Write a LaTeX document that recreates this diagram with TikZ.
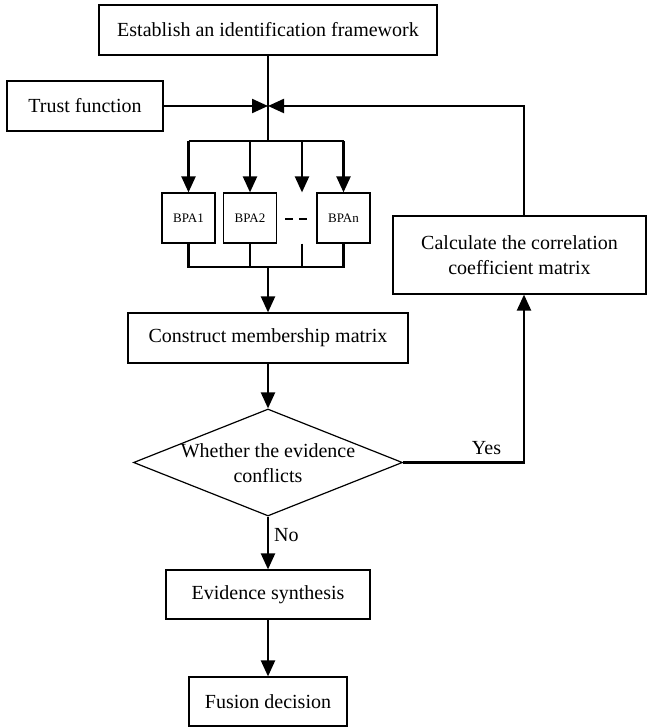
\documentclass[tikz,border=0pt]{standalone}
\usepackage{fontspec}
\setmainfont{Liberation Serif}
\usepackage{tikz}
\usetikzlibrary{positioning}
\usetikzlibrary{shapes.geometric, arrows.meta}
\tikzstyle{process} = [rectangle, draw=black, line width=0.6pt, inner sep=0pt, minimum height=25pt, align=center, font=\fontsize{10}{12.5}\selectfont]
\tikzstyle{bpa} = [rectangle, draw=black, line width=0.6pt, inner sep=0pt, minimum width=26.5pt, minimum height=25pt, font=\fontsize{6.5}{8}\selectfont]
\tikzstyle{decision} = [diamond, draw=black, line width=0.6pt, inner sep=0pt, minimum width=134.5pt, minimum height=53.5pt]
\tikzstyle{conn} = [line width=1.1pt]
\tikzstyle{arrow} = [line width=1.1pt, -{Triangle[length=8pt,width=7pt]}]
\tikzstyle{lbl} = [font=\fontsize{10}{12.5}\selectfont]

\begin{document}
\begin{tikzpicture}[x=0.5pt, y=-0.5pt]
\useasboundingbox (0,0) rectangle (648,727);
% boxes
\node (frame) [process, minimum width=169pt] at (268,30) {Establish an identification framework};
\node (trust) [process, minimum width=78pt] at (85,106) {Trust function};
\node (bpa1) [bpa] at (188.5,218) {BPA1};
\node (bpa2) [bpa] at (250,218) {BPA2};
\node (bpan) [bpa] at (343.5,218) {BPAn};
\node (member) [process, minimum width=140pt] at (268,338) {Construct membership matrix};
\node (dec) [decision] at (268,462.5) {};
\node (dectext) [lbl, align=center] at (268,463.5) {Whether the evidence\\conflicts};
\node (calc) [process, minimum width=126.5pt, minimum height=39pt] at (519.5,255) {Calculate the correlation\\coefficient matrix};
\node (synth) [process, minimum width=102pt, minimum height=24.5pt] at (268,594.5) {Evidence synthesis};
\node (fusion) [process, minimum width=79pt, minimum height=24.5pt] at (268,701.5) {Fusion decision};
% helper points
\coordinate (j) at (268,106);
\coordinate (bus) at (268,141);
\coordinate (gap) at (302,218);
\coordinate (join) at (268,267);
\coordinate (yes) at (524,462.5);
% top part
\draw[conn] (frame.south) -- (bus);
\draw[arrow] (trust.east) -- (j);
\draw[conn] (bpa1 |- bus) -- (bpan |- bus);
\draw[arrow] (bpa1 |- bus) -- (bpa1.north);
\draw[arrow] (bpa2 |- bus) -- (bpa2.north);
\draw[arrow] (gap |- bus) -- (gap |- bpa1.north);
\draw[arrow] (bpan |- bus) -- (bpan.north);
\draw[line width=1.1pt, dash pattern=on 4pt off 3pt] (285,219) -- (307,219);
% collect
\draw[conn] (bpa1.south) |- (bpan |- join) -- (bpan.south);
\draw[conn] (bpa2.south) -- (bpa2 |- join);
\draw[conn] (gap |- bpa1.south) -- (gap |- join);
\draw[arrow] (join) -- (member.north);
\draw[arrow] (member) -- (dec);
% branches
\draw[arrow] (dec.east) -- node (yeslbl) [lbl, pos=0.69, above] {Yes} (yes) -- (calc.south -| yes);
\draw[arrow] (calc.north -| yes) |- (j);
\draw[arrow] (dec.south) -- node (nolbl) [lbl, pos=0.35, right, inner sep=2.5pt] {No} (synth.north);
\draw[arrow] (synth) -- (fusion);
\end{tikzpicture}
\end{document}
